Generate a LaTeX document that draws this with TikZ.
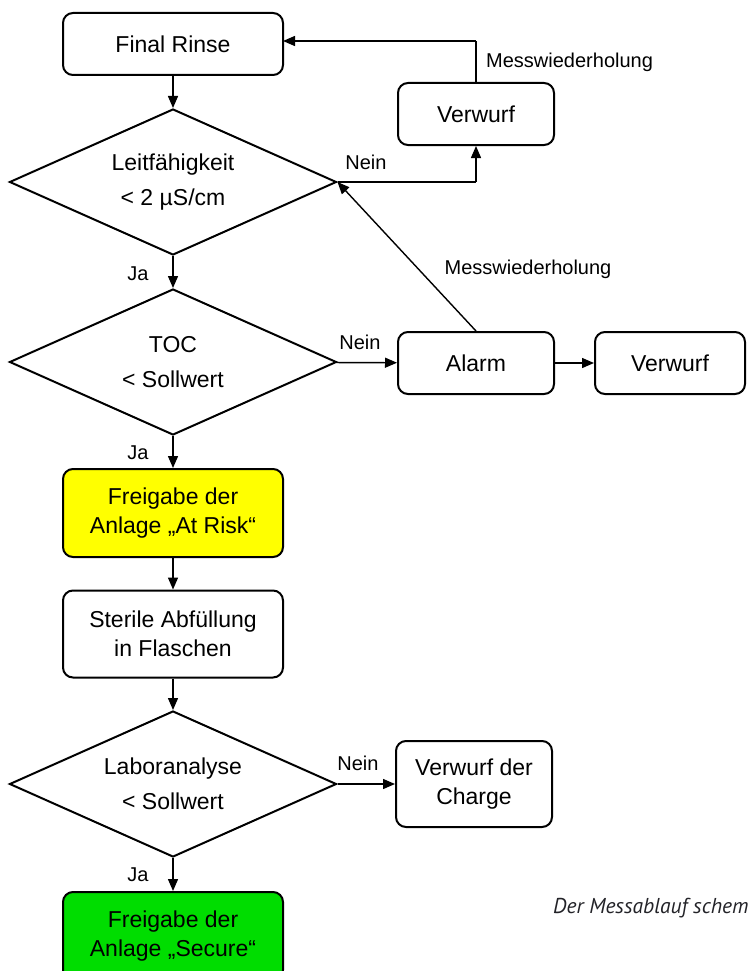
\documentclass[tikz,border=0pt]{standalone}
\usepackage{fontspec}
\setmainfont{Liberation Sans}
\newfontfamily\capfont{PT Sans}
\usetikzlibrary{shapes.geometric,arrows.meta}
\begin{document}
\begin{tikzpicture}[x=1pt,y=-1pt,
  box/.style={draw, line width=2pt, rounded corners=10pt, align=center, inner sep=0pt,
    font=\fontsize{23}{29}\selectfont},
  dec/.style={draw, diamond, line width=2pt, inner sep=0pt, minimum width=327pt, minimum height=146pt,
    shape aspect=2.24, align=center, font=\fontsize{23}{35}\selectfont},
  conn/.style={line width=1.4pt, -{Triangle[length=12pt,width=10pt]}},
  plain/.style={line width=1.4pt},
  lbl/.style={font=\fontsize{20}{24}\selectfont, inner sep=0pt}]
\useasboundingbox (0,0) rectangle (747,971);
\clip (0,0) rectangle (747,971);
\definecolor{ylw}{RGB}{255,255,0}
\definecolor{grn}{RGB}{0,221,0}
\definecolor{capgray}{RGB}{35,35,40}

\node[box, minimum width=220pt, minimum height=62pt] (fr) at (173,44) {Final Rinse};
\node[dec] (d1) at (173,182) {Leitfähigkeit\\< 2 µS/cm};
\node[box, minimum width=156pt, minimum height=62pt] (v1) at (476,114) {Verwurf};
\node[dec] (d2) at (173,362) {TOC\\< Sollwert};
\node[box, minimum width=156pt, minimum height=62pt] (al) at (476,363) {Alarm};
\node[box, minimum width=150pt, minimum height=62pt] (v2) at (670,363) {Verwurf};
\node[box, fill=ylw, minimum width=220pt, minimum height=88pt] (fy) at (173,513) {Freigabe der\\Anlage „At Risk“};
\node[box, minimum width=220pt, minimum height=87pt] (st) at (173,634) {Sterile Abfüllung\\in Flaschen};
\node[dec] (d3) at (173,784) {Laboranalyse\\< Sollwert};
\node[box, minimum width=156pt, minimum height=86pt] (vc) at (474,784) {Verwurf der\\Charge};
\node[box, fill=grn, minimum width=220pt, minimum height=88pt] (fg) at (173,936) {Freigabe der\\Anlage „Secure“};

\coordinate (c1) at (476,182);
\coordinate (c2) at (476,41);
\coordinate (c3) at (283,41);

\draw[conn] (fr) -- (d1);
\draw[plain] (d1.east) -- (c1);
\draw[conn] (c1) -- (v1);
\draw[plain] (v1) -- (c2);
\draw[conn] (c2) -- (c3);
\draw[conn] (al.north) -- (d1.east);
\draw[conn] (d1) -- (d2);
\draw[conn] (d2) -- (al);
\draw[conn] (al) -- (v2);
\draw[conn] (d2) -- (fy);
\draw[conn] (fy) -- (st);
\draw[conn] (st) -- (d3);
\draw[conn] (d3) -- (vc);
\draw[conn] (d3) -- (fg);

\node[lbl] (n1) at (366,162) {Nein};
\node[lbl, anchor=west] (m1) at (486,62) {Messwiederholung};
\node[lbl] (m2) at (528,269) {Messwiederholung};
\node[lbl] (j1) at (138,274) {Ja};
\node[lbl] (n2) at (360,342) {Nein};
\node[lbl] (j2) at (138,453) {Ja};
\node[lbl] (n3) at (358,763) {Nein};
\node[lbl] (j3) at (138,875) {Ja};
\node[anchor=base west, inner sep=0pt, text=capgray, font=\capfont\itshape\fontsize{21.5}{24}\selectfont] (cap) at (553,913) {Der Messablauf schem};
\end{tikzpicture}
\end{document}
